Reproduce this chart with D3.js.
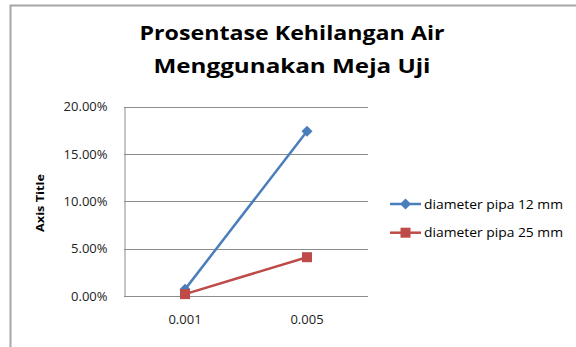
<!DOCTYPE html>
<html>
<head>
<meta charset="utf-8">
<script src="https://cdn.jsdelivr.net/npm/d3@7"></script>
<style>
  html, body { margin: 0; padding: 0; background: #fff; }
  svg { display: block; }
  text { font-family: "Open Sans", Lato, sans-serif; }
</style>
</head>
<body>
<svg id="chart" width="576" height="347"></svg>
<script>
// Water loss percentage per flow setting, one series per pipe diameter
const categories = ["0.001", "0.005"];
const seriesNames = ["diameter pipa 12 mm", "diameter pipa 25 mm"];
const pipa12 = [0.007, 0.174];
const pipa25 = [0.002, 0.041];
const yTicks = [0, 0.05, 0.10, 0.15, 0.20];
const titleLines = ["Prosentase Kehilangan Air", "Menggunakan Meja Uji"];
const axisTitle = "Axis Title";

const colors = ["#4A7EBB", "#BE4B48"];
const series = [
  { name: seriesNames[0], values: pipa12, color: colors[0], marker: "diamond" },
  { name: seriesNames[1], values: pipa25, color: colors[1], marker: "square" }
];

const svg = d3.select("#chart");
const W = 576, H = 347;

// outer frame (top and left edges visible)
svg.append("path")
  .attr("d", `M10.5,${H} V5.5 H${W}`)
  .attr("fill", "none")
  .attr("stroke", "#a6a6a6")
  .attr("stroke-width", 2);

// title
const titleWidths = [305, 277];
svg.append("g").selectAll("text").data(titleLines).join("text")
  .attr("x", 292)
  .attr("y", (d, i) => 39.5 + i * 33.5)
  .attr("text-anchor", "middle")
  .attr("font-size", 20)
  .attr("font-weight", "bold")
  .attr("fill", "#000")
  .attr("textLength", (d, i) => titleWidths[i])
  .attr("lengthAdjust", "spacingAndGlyphs")
  .text(d => d);

const plot = { left: 124, right: 368, top: 106.7, bottom: 296 };

const x = d3.scaleBand().domain(categories).range([plot.left, plot.right]);
const y = d3.scaleLinear().domain([0, 0.20]).range([plot.bottom, plot.top]);

// horizontal gridlines
svg.append("g").selectAll("line").data(yTicks).join("line")
  .attr("x1", plot.left).attr("x2", plot.right)
  .attr("y1", d => Math.round(y(d)) + 0.5).attr("y2", d => Math.round(y(d)) + 0.5)
  .attr("stroke", "#8c8c8c")
  .attr("stroke-width", 1);

// y axis
const yAxis = svg.append("g")
  .attr("transform", `translate(${plot.left + 0.5},0)`)
  .call(d3.axisLeft(y).tickValues(yTicks).tickFormat(d3.format(".2%")).tickSize(0).tickPadding(17));
yAxis.select(".domain").attr("stroke", "#8c8c8c");
yAxis.selectAll("text").attr("font-size", 13).attr("fill", "#222")
  .attr("font-family", "'Open Sans', sans-serif");

// x axis labels
const xAxis = svg.append("g")
  .attr("transform", `translate(0,${plot.bottom})`)
  .call(d3.axisBottom(x).tickSize(0).tickPadding(19));
xAxis.select(".domain").remove();
xAxis.selectAll("text").attr("font-size", 13).attr("fill", "#222")
  .attr("font-family", "'Open Sans', sans-serif");

// axis title
svg.append("text")
  .attr("transform", "translate(44,203) rotate(-90)")
  .attr("text-anchor", "middle")
  .attr("font-size", 11)
  .attr("font-weight", "bold")
  .attr("fill", "#000")
  .attr("textLength", 58)
  .attr("lengthAdjust", "spacingAndGlyphs")
  .text(axisTitle);

const cx = c => x(c) + x.bandwidth() / 2;

function drawMarker(g, type, color, px, py) {
  if (type === "diamond") {
    g.append("path")
      .attr("d", `M${px},${py - 5.5} L${px + 5.5},${py} L${px},${py + 5.5} L${px - 5.5},${py} Z`)
      .attr("fill", color);
  } else {
    g.append("rect")
      .attr("x", px - 5).attr("y", py - 5)
      .attr("width", 10).attr("height", 10)
      .attr("fill", color);
  }
}

const line = d3.line().x(d => cx(d.c)).y(d => y(d.v));

series.forEach(s => {
  const pts = categories.map((c, i) => ({ c, v: s.values[i] }));
  const g = svg.append("g");
  g.append("path")
    .attr("d", line(pts))
    .attr("fill", "none")
    .attr("stroke", s.color)
    .attr("stroke-width", 2.5);
  pts.forEach(p => drawMarker(g, s.marker, s.color, cx(p.c), y(p.v)));
});

// legend
const legend = svg.append("g");
series.forEach((s, i) => {
  const ly = 204 + i * 28.7;
  const g = legend.append("g");
  g.append("line")
    .attr("x1", 390).attr("x2", 421)
    .attr("y1", ly).attr("y2", ly)
    .attr("stroke", s.color).attr("stroke-width", 2.5);
  drawMarker(g, s.marker, s.color, 405.5, ly);
  g.append("text")
    .attr("x", 424).attr("y", ly + 4.5)
    .attr("font-size", 12.5)
    .attr("fill", "#000")
    .attr("textLength", 139)
    .attr("lengthAdjust", "spacingAndGlyphs")
    .text(s.name);
});
</script>
</body>
</html>
